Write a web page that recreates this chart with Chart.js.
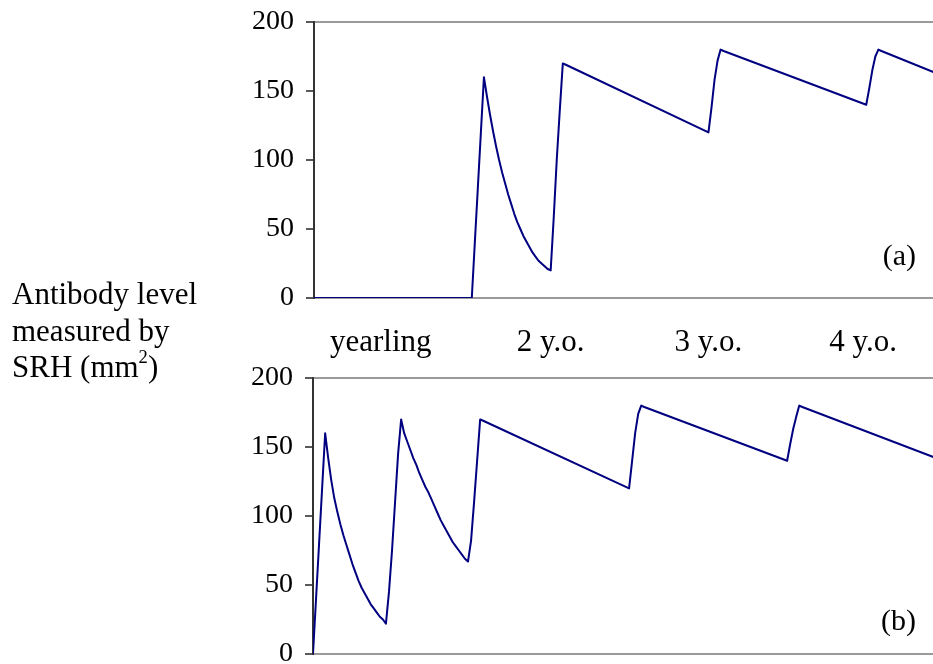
<!DOCTYPE html>
<html>
<head>
<meta charset="utf-8">
<script src="https://cdn.jsdelivr.net/npm/chart.js@4"></script>
<style>
    body { margin: 0; background: #fff; }
    #wrap { position: relative; width: 933px; height: 664px; overflow: hidden; }
    canvas { position: absolute; left: 0; top: 0; }
    #ylabel {
        position: absolute; left: 12px; top: 276px;
        font: 31px "Liberation Serif", "Times New Roman", serif;
        line-height: 36.5px; color: #000; white-space: nowrap;
    }
    #ylabel sup { font-size: 0.6em; line-height: 0; vertical-align: 0.75em; }
</style>
</head>
<body>
<div id="wrap">
    <canvas id="graficoA" width="933" height="664"></canvas>
    <canvas id="graficoB" width="933" height="664"></canvas>
    <div id="ylabel">Antibody level<br>measured by<br>SRH (mm<sup>2</sup>)</div>
</div>
<script>
// weeks since the first point on the time axis
const weeksA = [0, 52, 53, 54, 55, 56, 57, 58, 59, 60, 61, 62, 63, 64, 65, 66, 67, 68, 69, 70,
    71, 72, 73, 74, 75, 76, 77, 78, 79, 80, 81, 82, 83, 130, 131, 132, 133, 134, 135,
    182, 183, 184, 185, 186, 187, 205];
const levelA = [0, 0, 40, 80, 120, 160, 146, 133, 121, 110, 100, 91, 83, 75, 68, 61, 55, 50, 45, 41,
    37, 33, 30, 27, 25, 23, 21, 20, 58, 100, 136, 170, 169, 120, 138, 158, 172, 180, 179,
    140, 152, 165, 175, 180, 179, 163];

const weeksB = [0, 1, 2, 3, 4, 5, 6, 7, 8, 9, 10, 11, 12, 13, 14, 15, 16, 17, 18, 19,
    20, 21, 22, 23, 24, 25, 26, 27, 28, 29, 30, 31, 32, 33, 34, 35, 36, 37, 38, 39,
    40, 41, 42, 43, 44, 45, 46, 47, 48, 49, 50, 51, 52, 53, 54, 55, 56,
    104, 105, 106, 107, 108, 109, 156, 157, 158, 159, 160, 161, 205];
const levelB = [0, 40, 80, 120, 160, 142, 126, 113, 103, 94, 86, 79, 72, 65, 59, 53, 48, 44, 40, 36,
    33, 30, 27, 25, 22, 45, 75, 110, 145, 170, 160, 154, 148, 142, 137, 131, 126, 121, 117, 112,
    107, 102, 97, 93, 89, 85, 81, 78, 75, 72, 69, 67, 82, 110, 140, 170, 169,
    120, 140, 160, 174, 180, 179, 140, 152, 163, 172, 180, 179, 142];

const yearTickWeeks = [22, 78, 130, 181];
const yearLabels = ['yearling', '2 y.o.', '3 y.o.', '4 y.o.'];
const yTicks = [0, 50, 100, 150, 200];

const serif = '"Liberation Serif", "Times New Roman", serif';

// writes (a) / (b) in the lower right corner of the plot
const panelTag = {
    id: 'panelTag',
    afterDraw(chart, args, opts) {
        const { ctx, chartArea } = chart;
        ctx.save();
        ctx.font = '30px ' + serif;
        ctx.fillStyle = '#000';
        ctx.textAlign = 'right';
        ctx.textBaseline = 'alphabetic';
        ctx.fillText(opts.text, chartArea.right - opts.dx, chartArea.bottom - opts.dy);
        ctx.restore();
    }
};

function pontos(weeks, levels) {
    return weeks.map((w, i) => ({ x: w, y: levels[i] }));
}

function criarPainel(id, weeks, levels, cfg) {
    const ctx = document.getElementById(id);

    return new Chart(ctx, {
        type: 'line',
        data: {
            datasets: [{
                data: pontos(weeks, levels),
                borderColor: '#000080',
                borderWidth: 2,
                borderJoinStyle: 'round',
                pointRadius: 0,
                tension: 0,
                fill: false
            }]
        },
        options: {
            responsive: false,
            animation: false,
            devicePixelRatio: 1,
            layout: { padding: { top: cfg.top, bottom: cfg.bottom, left: 0, right: 0 } },
            plugins: {
                legend: { display: false },
                tooltip: { enabled: false },
                panelTag: { text: cfg.tag, dx: 17, dy: cfg.tagDy }
            },
            scales: {
                x: {
                    type: 'linear',
                    min: 0,
                    max: 204,
                    grid: { display: false, drawTicks: false },
                    border: { display: true, color: '#9a9a9a', width: 2 },
                    afterBuildTicks: s => { s.ticks = yearTickWeeks.map(v => ({ value: v })); },
                    afterFit: s => { s.height = cfg.xHeight; s.paddingLeft = 0; s.paddingRight = 0; },
                    ticks: {
                        display: cfg.showYears,
                        autoSkip: false,
                        maxRotation: 0,
                        padding: 26,
                        color: '#000',
                        font: { family: serif, size: 31 },
                        callback: (v, i) => yearLabels[i]
                    }
                },
                y: {
                    min: 0,
                    max: 200,
                    afterBuildTicks: s => { s.ticks = yTicks.map(v => ({ value: v })); },
                    afterFit: s => { s.width = cfg.left; s.paddingTop = 0; s.paddingBottom = 0; },
                    grid: {
                        color: c => (c.tick && c.tick.value === 200) ? '#9a9a9a' : 'rgba(0,0,0,0)',
                        lineWidth: 2,
                        tickColor: '#222',
                        tickWidth: 1.5,
                        tickLength: 8
                    },
                    border: { color: '#333', width: 2 },
                    ticks: {
                        padding: 12,
                        color: '#000',
                        font: { family: serif, size: 28 }
                    }
                }
            }
        },
        plugins: [panelTag]
    });
}

criarPainel('graficoA', weeksA, levelA, {
    top: 22, bottom: 286, xHeight: 80, left: 314, showYears: true, tag: '(a)', tagDy: 33
});
criarPainel('graficoB', weeksB, levelB, {
    top: 378, bottom: 0, xHeight: 10, left: 313, showYears: false, tag: '(b)', tagDy: 24
});
</script>
</body>
</html>
